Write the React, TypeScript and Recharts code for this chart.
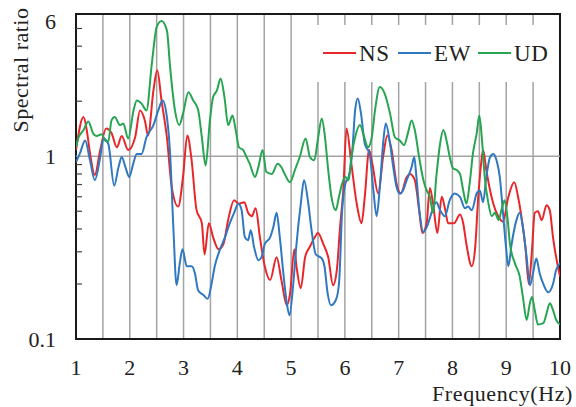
import React from "react";
import {
  LineChart,
  Line,
  XAxis,
  YAxis,
  CartesianGrid,
  ReferenceLine,
  ReferenceArea,
} from "recharts";

// ---- data ----
const nsFreq = [
  1.0, 1.14, 1.2, 1.26, 1.35, 1.45, 1.56, 1.66, 1.76, 1.85, 1.97, 2.1, 2.19, 2.28, 2.34, 2.44, 2.51, 2.59, 2.69, 2.78,
  2.9, 2.99, 3.07, 3.15, 3.24, 3.34, 3.39, 3.47, 3.55, 3.65, 3.74, 3.83, 3.94, 4.02, 4.13, 4.2, 4.27, 4.34, 4.42, 4.51,
  4.61, 4.73, 4.82, 4.92, 4.98, 5.06, 5.1, 5.18, 5.26, 5.35, 5.44, 5.5, 5.6, 5.69, 5.78, 5.85, 5.91, 5.97, 6.03, 6.12,
  6.22, 6.31, 6.37, 6.45, 6.51, 6.62, 6.71, 6.79, 6.87, 6.96, 7.04, 7.15, 7.21, 7.3, 7.38, 7.44, 7.52, 7.58, 7.64, 7.72,
  7.8, 7.86, 7.92, 8.03, 8.14, 8.2, 8.26, 8.36, 8.42, 8.48, 8.54, 8.57, 8.63, 8.7, 8.76, 8.85, 8.94, 9.04, 9.15, 9.22,
  9.3, 9.36, 9.42, 9.48, 9.53, 9.59, 9.66, 9.75, 9.81, 9.87, 9.96, 10.0,
];
const nsRatio = [
  1.08, 1.64, 1.39, 1.04, 0.79, 1.08, 1.42, 1.34, 1.12, 1.29, 1.08, 1.27, 1.78, 1.57, 1.3, 2.29, 2.95, 2.02, 1.27, 0.68,
  0.53, 0.77, 1.3, 0.95, 0.51, 0.43, 0.29, 0.43, 0.36, 0.31, 0.33, 0.45, 0.575, 0.55, 0.56, 0.49, 0.47, 0.52, 0.36, 0.25,
  0.21, 0.28, 0.21, 0.153, 0.177, 0.31, 0.25, 0.19, 0.28, 0.32, 0.36, 0.38, 0.33, 0.28, 0.197, 0.238, 0.41, 0.65, 1.42, 0.91,
  0.55, 0.43, 0.6, 1.08, 0.91, 0.625, 0.99, 1.3, 1.08, 0.71, 0.625, 0.77, 0.8, 0.74, 0.507, 0.38, 0.43, 0.67, 0.55, 0.38,
  0.6, 0.52, 0.43, 0.43, 0.48, 0.43, 0.33, 0.25, 0.31, 0.6, 0.95, 1.08, 0.84, 0.65, 0.55, 0.47, 0.44, 0.6, 0.72, 0.6,
  0.43, 0.31, 0.2, 0.31, 0.49, 0.5, 0.447, 0.54, 0.507, 0.36, 0.25, 0.22,
];

const ewFreq = [
  1.0, 1.07, 1.17, 1.26, 1.35, 1.45, 1.51, 1.6, 1.71, 1.79, 1.85, 1.92, 1.99, 2.06, 2.13, 2.22, 2.31, 2.44, 2.53, 2.61,
  2.69, 2.75, 2.81, 2.87, 2.93, 2.98, 3.06, 3.15, 3.21, 3.27, 3.37, 3.45, 3.52, 3.58, 3.68, 3.77, 3.86, 3.94, 4.02, 4.08,
  4.14, 4.2, 4.25, 4.31, 4.39, 4.45, 4.51, 4.61, 4.67, 4.73, 4.79, 4.85, 4.92, 4.97, 5.04, 5.1, 5.18, 5.24, 5.32, 5.38,
  5.46, 5.57, 5.62, 5.68, 5.74, 5.83, 5.89, 5.95, 6.01, 6.07, 6.14, 6.19, 6.24, 6.3, 6.37, 6.46, 6.53, 6.59, 6.65, 6.71,
  6.76, 6.84, 6.9, 6.96, 7.02, 7.08, 7.15, 7.24, 7.29, 7.33, 7.39, 7.46, 7.55, 7.61, 7.7, 7.77, 7.86, 7.95, 8.04, 8.14,
  8.23, 8.29, 8.36, 8.45, 8.51, 8.57, 8.63, 8.7, 8.76, 8.82, 8.88, 8.94, 9.0, 9.04, 9.1, 9.19, 9.25, 9.31, 9.38, 9.44,
  9.5, 9.56, 9.62, 9.69, 9.78, 9.87, 9.93, 10.0,
];
const ewRatio = [
  0.93, 1.03, 1.22, 0.95, 0.74, 0.99, 1.25, 1.17, 0.69, 0.87, 0.99, 0.87, 0.77, 0.9, 1.03, 1.03, 1.27, 1.48, 1.78, 2.02,
  1.64, 1.03, 0.41, 0.197, 0.26, 0.31, 0.25, 0.25, 0.23, 0.185, 0.174, 0.166, 0.2, 0.25, 0.31, 0.36, 0.43, 0.49, 0.55, 0.507,
  0.36, 0.347, 0.394, 0.32, 0.27, 0.28, 0.33, 0.36, 0.41, 0.49, 0.36, 0.238, 0.157, 0.135, 0.2, 0.33, 0.55, 0.74, 0.55, 0.394,
  0.29, 0.276, 0.25, 0.177, 0.153, 0.163, 0.2, 0.507, 0.71, 0.77, 1.08, 1.78, 2.07, 1.71, 1.17, 1.03, 0.65, 0.47, 0.68, 1.17,
  1.51, 1.17, 0.87, 0.68, 0.625, 0.65, 0.74, 0.87, 0.99, 0.77, 0.49, 0.385, 0.43, 0.49, 0.56, 0.507, 0.47, 0.575, 0.625, 0.6,
  0.52, 0.53, 0.507, 0.625, 0.65, 0.56, 0.77, 0.99, 1.03, 0.95, 0.77, 0.49, 0.31, 0.25, 0.33, 0.447, 0.49, 0.41, 0.28, 0.197,
  0.23, 0.276, 0.23, 0.2, 0.18, 0.2, 0.24, 0.26,
];

const udFreq = [
  1.0, 1.04, 1.14, 1.23, 1.32, 1.38, 1.48, 1.54, 1.6, 1.66, 1.72, 1.82, 1.88, 1.97, 2.07, 2.13, 2.22, 2.31, 2.41, 2.5,
  2.59, 2.69, 2.75, 2.84, 2.92, 2.99, 3.09, 3.18, 3.27, 3.34, 3.41, 3.49, 3.55, 3.62, 3.69, 3.76, 3.83, 3.91, 3.97, 4.03,
  4.11, 4.17, 4.23, 4.33, 4.39, 4.47, 4.54, 4.64, 4.75, 4.82, 4.88, 4.98, 5.07, 5.16, 5.27, 5.35, 5.43, 5.5, 5.57, 5.63,
  5.69, 5.75, 5.83, 5.89, 5.95, 6.01, 6.07, 6.12, 6.19, 6.28, 6.36, 6.43, 6.5, 6.56, 6.65, 6.74, 6.84, 6.93, 7.02, 7.1,
  7.17, 7.24, 7.3, 7.38, 7.46, 7.52, 7.58, 7.64, 7.7, 7.77, 7.83, 7.89, 7.95, 8.01, 8.08, 8.14, 8.2, 8.26, 8.32, 8.38,
  8.45, 8.5, 8.55, 8.6, 8.67, 8.73, 8.79, 8.86, 8.91, 8.97, 9.02, 9.07, 9.16, 9.25, 9.31, 9.38, 9.44, 9.48, 9.53, 9.59,
  9.69, 9.75, 9.81, 9.87, 9.93, 10.0,
];
const udRatio = [
  1.12, 1.25, 1.39, 1.55, 1.33, 1.29, 1.32, 1.22, 1.2, 1.57, 1.64, 1.48, 1.51, 1.25, 1.78, 2.02, 1.94, 1.78, 3.21, 5.09,
  5.49, 4.88, 3.07, 1.78, 1.48, 1.71, 2.24, 2.02, 1.8, 1.27, 0.89, 1.57, 2.11, 2.29, 2.66, 2.11, 1.48, 1.67, 1.39, 1.12,
  1.08, 0.99, 0.91, 0.77, 0.87, 1.08, 0.82, 0.8, 0.91, 0.87, 0.8, 0.72, 0.84, 0.99, 1.25, 0.99, 0.95, 1.25, 1.61, 1.27,
  0.84, 0.6, 0.507, 0.6, 0.71, 0.77, 0.74, 0.99, 1.27, 1.48, 1.27, 1.12, 1.27, 1.78, 2.39, 2.2, 1.71, 1.27, 1.22, 1.15,
  1.33, 1.57, 1.39, 0.99, 0.74, 0.65, 0.6, 0.49, 0.77, 1.17, 1.39, 1.22, 0.99, 0.86, 0.84, 0.8, 0.65, 0.55, 0.71, 1.03,
  1.33, 1.67, 1.22, 0.77, 0.55, 0.47, 0.49, 0.447, 0.507, 0.575, 0.47, 0.33, 0.26, 0.22, 0.17, 0.127, 0.157, 0.17, 0.144, 0.12,
  0.122, 0.138, 0.157, 0.144, 0.127, 0.12,
];

const xTicks = [1, 1.5, 2, 2.5, 3, 3.5, 4, 4.5, 5, 5.5, 6, 6.5, 7, 7.5, 8, 8.5, 9, 9.5, 10];
const yTicks = [0.1, 0.2, 0.3, 0.4, 0.5, 0.6, 0.7, 0.8, 0.9, 1, 2, 3, 4, 5, 6];
const yLabels = [0.1, 1, 6];

const series = [
  { name: "NS", color: "#e8272b", freq: nsFreq, ratio: nsRatio },
  { name: "EW", color: "#2f78c2", freq: ewFreq, ratio: ewRatio },
  { name: "UD", color: "#27a552", freq: udFreq, ratio: udRatio },
];

const FONT = "'Liberation Serif', 'Times New Roman', serif";
const W = 576;
const H = 407;

const YTick = (props: any) => {
  const { x, y, payload } = props;
  const v = payload.value;
  const isLabel = yLabels.includes(v);
  return (
    <g>
      {!isLabel && <line x1={x} x2={x + 6} y1={y} y2={y} stroke="#444" strokeWidth={1.2} />}
      {isLabel && (
        <text
          x={x - 20}
          y={y + 7.5 + (v === 6 ? 7 : 0)}
          textAnchor="end"
          fontFamily={FONT}
          fontSize={22}
          fill="#222"
        >
          {String(v)}
        </text>
      )}
    </g>
  );
};

const XTick = (props: any) => {
  const { x, y, payload } = props;
  const v = payload.value;
  if (!Number.isInteger(v)) return <g />;
  return (
    <text x={x} y={y + 36} textAnchor="middle" fontFamily={FONT} fontSize={22} fill="#222">
      {String(v)}
    </text>
  );
};

const legendOffsets = [18, 93, 173];

export default function App() {
  const datasets = series.map((s) => s.freq.map((f, i) => ({ f, v: s.ratio[i] })));
  return (
    <div style={{ position: "absolute", left: 0, top: 0, width: W, height: H, background: "#fff" }}>
      <LineChart width={W} height={H} margin={{ top: 14, right: 16, bottom: 0, left: 0 }}>
        <CartesianGrid horizontal={false} vertical={true} stroke="#a3a3a3" strokeWidth={1.5} />
        <XAxis
          dataKey="f"
          type="number"
          domain={[1, 10]}
          ticks={xTicks}
          interval={0}
          allowDataOverflow
          axisLine={false}
          tickLine={false}
          tickSize={0}
          tickMargin={0}
          height={68}
          tick={XTick}
          label={() => (
            <text x={573} y={401} textAnchor="end" fontFamily={FONT} fontSize={22} fill="#222" letterSpacing={0.6}>
              Frequency(Hz)
            </text>
          )}
        />
        <YAxis
          type="number"
          scale="log"
          domain={[0.1, 6]}
          ticks={yTicks}
          interval={0}
          allowDataOverflow
          axisLine={false}
          tickLine={false}
          tickSize={0}
          tickMargin={0}
          width={76}
          tick={YTick}
          label={() => (
            <text
              x={28}
              y={70}
              transform="rotate(-90, 28, 70)"
              textAnchor="middle"
              fontFamily={FONT}
              fontSize={22}
              fill="#222"
              letterSpacing={0.5}
            >
              Spectral ratio
            </text>
          )}
        />
        <ReferenceLine y={1} stroke="#a3a3a3" strokeWidth={1.5} />
        {series.map((s, i) => (
          <Line
            key={s.name}
            data={datasets[i]}
            dataKey="v"
            name={s.name}
            type="monotone"
            stroke={s.color}
            strokeWidth={2}
            dot={false}
            activeDot={false}
            isAnimationActive={false}
          />
        ))}
        <ReferenceArea
          x1={1}
          x2={10}
          y1={0.1}
          y2={6}
          fill="none"
          stroke="#1a1a1a"
          strokeWidth={2}
          ifOverflow="visible"
        />
      </LineChart>
      <div
        style={{
          position: "absolute",
          left: 305,
          top: 25,
          width: 252,
          height: 57,
          background: "#fff",
          fontFamily: FONT,
          fontSize: 23,
          color: "#222",
        }}
      >
        {series.map((s, i) => (
          <React.Fragment key={s.name}>
            <div
              style={{
                position: "absolute",
                left: legendOffsets[i],
                top: 27,
                width: 33,
                height: 2,
                background: s.color,
              }}
            />
            <span
              style={{
                position: "absolute",
                left: legendOffsets[i] + 36,
                top: 17,
                lineHeight: "23px",
                letterSpacing: 0.6,
                whiteSpace: "nowrap",
              }}
            >
              {s.name}
            </span>
          </React.Fragment>
        ))}
      </div>
    </div>
  );
}
